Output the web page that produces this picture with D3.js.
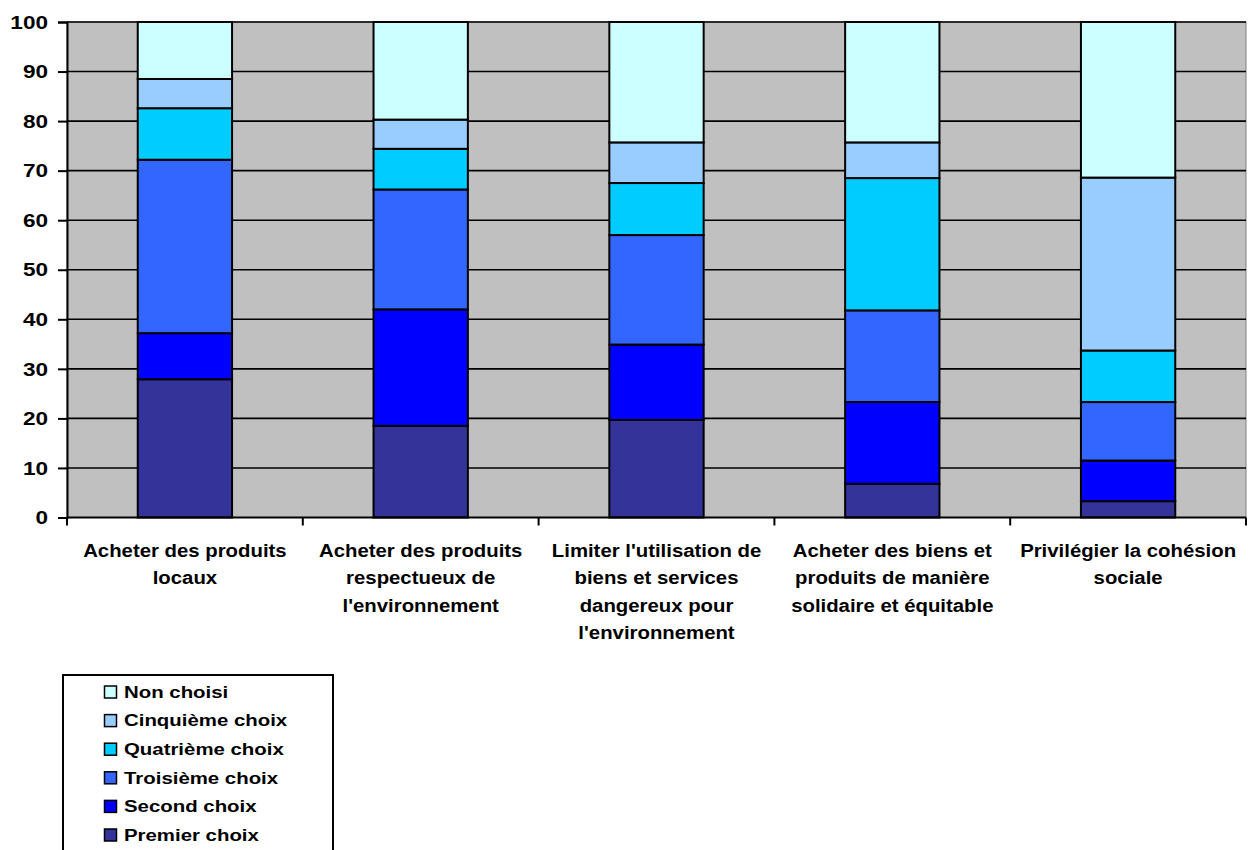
<!DOCTYPE html>
<html>
<head>
<meta charset="utf-8">
<script src="https://cdn.jsdelivr.net/npm/d3@7"></script>
<style>
  html, body { margin: 0; padding: 0; background: #ffffff; }
  svg { display: block; }
  text { font-family: Arial, "Liberation Sans", sans-serif; font-weight: bold; fill: #000; }
</style>
</head>
<body>
<svg id="chart" width="1248" height="850"></svg>
<script>
// Categories (each label split into its display lines)
const categories = [
  "Acheter des produits locaux",
  "Acheter des produits respectueux de l'environnement",
  "Limiter l'utilisation de biens et services dangereux pour l'environnement",
  "Acheter des biens et produits de manière solidaire et équitable",
  "Privilégier la cohésion sociale"
];
const categoryLines = [
  ["Acheter des produits", "locaux"],
  ["Acheter des produits", "respectueux de", "l'environnement"],
  ["Limiter l'utilisation de", "biens et services", "dangereux pour", "l'environnement"],
  ["Acheter des biens et", "produits de manière", "solidaire et équitable"],
  ["Privilégier la cohésion", "sociale"]
];

// Series (percent), stacked bottom to top
const seriesNames = ["Premier choix", "Second choix", "Troisième choix", "Quatrième choix", "Cinquième choix", "Non choisi"];
const premierChoix   = [27.9, 18.5, 19.7, 6.8, 3.3];
const secondChoix    = [9.3, 23.5, 15.2, 16.5, 8.2];
const troisiemeChoix = [35.0, 24.2, 22.1, 18.5, 11.8];
const quatriemeChoix = [10.4, 8.2, 10.5, 26.7, 10.4];
const cinquiemeChoix = [5.9, 5.9, 8.2, 7.2, 34.9];
const nonChoisi      = [11.5, 19.7, 24.3, 24.3, 31.4];
const seriesColors   = ["#333399", "#0000ff", "#3366ff", "#00ccff", "#99ccff", "#ccffff"];

const yTicks = [0, 10, 20, 30, 40, 50, 60, 70, 80, 90, 100];

// Build the table for d3.stack
const seriesValues = [premierChoix, secondChoix, troisiemeChoix, quatriemeChoix, cinquiemeChoix, nonChoisi];
const table = categories.map((c, i) => {
  const row = { category: c };
  seriesNames.forEach((s, k) => { row[s] = seriesValues[k][i]; });
  return row;
});

const svg = d3.select("#chart");
const plot = { left: 67, right: 1246, top: 22, bottom: 517.5 };

const x = d3.scaleBand()
  .domain(categories)
  .range([plot.left, plot.right])
  .paddingInner(0.6)
  .paddingOuter(0.3);

const y = d3.scaleLinear()
  .domain([0, 100])
  .range([plot.bottom, plot.top]);

// Plot background
svg.append("rect")
  .attr("x", plot.left).attr("y", plot.top)
  .attr("width", plot.right - plot.left).attr("height", plot.bottom - plot.top)
  .attr("fill", "#c0c0c0")
  .attr("stroke", "#808080").attr("stroke-width", 1);

// Horizontal gridlines
svg.append("g")
  .selectAll("line")
  .data(yTicks.filter(t => t > 0))
  .join("line")
  .attr("x1", plot.left).attr("x2", plot.right)
  .attr("y1", d => y(d)).attr("y2", d => y(d))
  .attr("stroke", "#000").attr("stroke-width", 1.6);

// Stacked bars
const stacked = d3.stack().keys(seriesNames)(table);
svg.append("g")
  .selectAll("g")
  .data(stacked)
  .join("g")
  .attr("fill", (d, i) => seriesColors[i])
  .selectAll("rect")
  .data(d => d)
  .join("rect")
  .attr("x", d => x(d.data.category))
  .attr("width", x.bandwidth())
  .attr("y", d => y(d[1]))
  .attr("height", d => y(d[0]) - y(d[1]))
  .attr("stroke", "#000")
  .attr("stroke-width", 2);

// Helper: horizontally widened text
function wideText(parent, tx, ty, str, size, sx, anchor) {
  const g = parent.append("g").attr("transform", `translate(${tx},${ty}) scale(${sx},1)`);
  g.append("text")
    .attr("text-anchor", anchor)
    .attr("dominant-baseline", "central")
    .style("font-size", size + "px")
    .text(str);
  return g;
}

// Y axis
const yAxis = svg.append("g")
  .attr("transform", `translate(${plot.left},0)`)
  .call(d3.axisLeft(y).tickValues(yTicks).tickSize(9).tickFormat(""));
yAxis.select(".domain").attr("stroke", "#000").attr("stroke-width", 2);
yAxis.selectAll(".tick line").attr("stroke", "#000").attr("stroke-width", 2);
yTicks.forEach(t => wideText(svg, 48, y(t), d3.format("d")(t), 18.5, 1.22, "end"));

// X axis: ticks at category boundaries
const step = x.step();
const boundaries = d3.range(categories.length + 1).map(i => plot.left + i * step);
svg.append("line")
  .attr("x1", plot.left).attr("x2", plot.right)
  .attr("y1", plot.bottom).attr("y2", plot.bottom)
  .attr("stroke", "#000").attr("stroke-width", 2);
svg.append("g")
  .selectAll("line")
  .data(boundaries)
  .join("line")
  .attr("x1", d => d).attr("x2", d => d)
  .attr("y1", plot.bottom).attr("y2", plot.bottom + 8)
  .attr("stroke", "#000").attr("stroke-width", 2);

// Category labels
categories.forEach((c, i) => {
  const cx = x(c) + x.bandwidth() / 2;
  categoryLines[i].forEach((line, j) => {
    wideText(svg, cx, 550 + j * 27.5, line, 18.5, 1.1, "middle");
  });
});

// Legend
const legend = svg.append("g");
legend.append("rect")
  .attr("x", 63).attr("y", 675)
  .attr("width", 270).attr("height", 200)
  .attr("fill", "#fff")
  .attr("stroke", "#000").attr("stroke-width", 2);
const legendOrder = seriesNames.map((s, i) => ({ name: s, color: seriesColors[i] })).reverse();
legendOrder.forEach((d, i) => {
  const cy = 692 + i * 28.6;
  legend.append("rect")
    .attr("x", 104.5).attr("y", cy - 6)
    .attr("width", 12).attr("height", 12)
    .attr("fill", d.color)
    .attr("stroke", "#000").attr("stroke-width", 1.5);
  wideText(legend, 124, cy, d.name, 17, 1.2, "start");
});
</script>
</body>
</html>
